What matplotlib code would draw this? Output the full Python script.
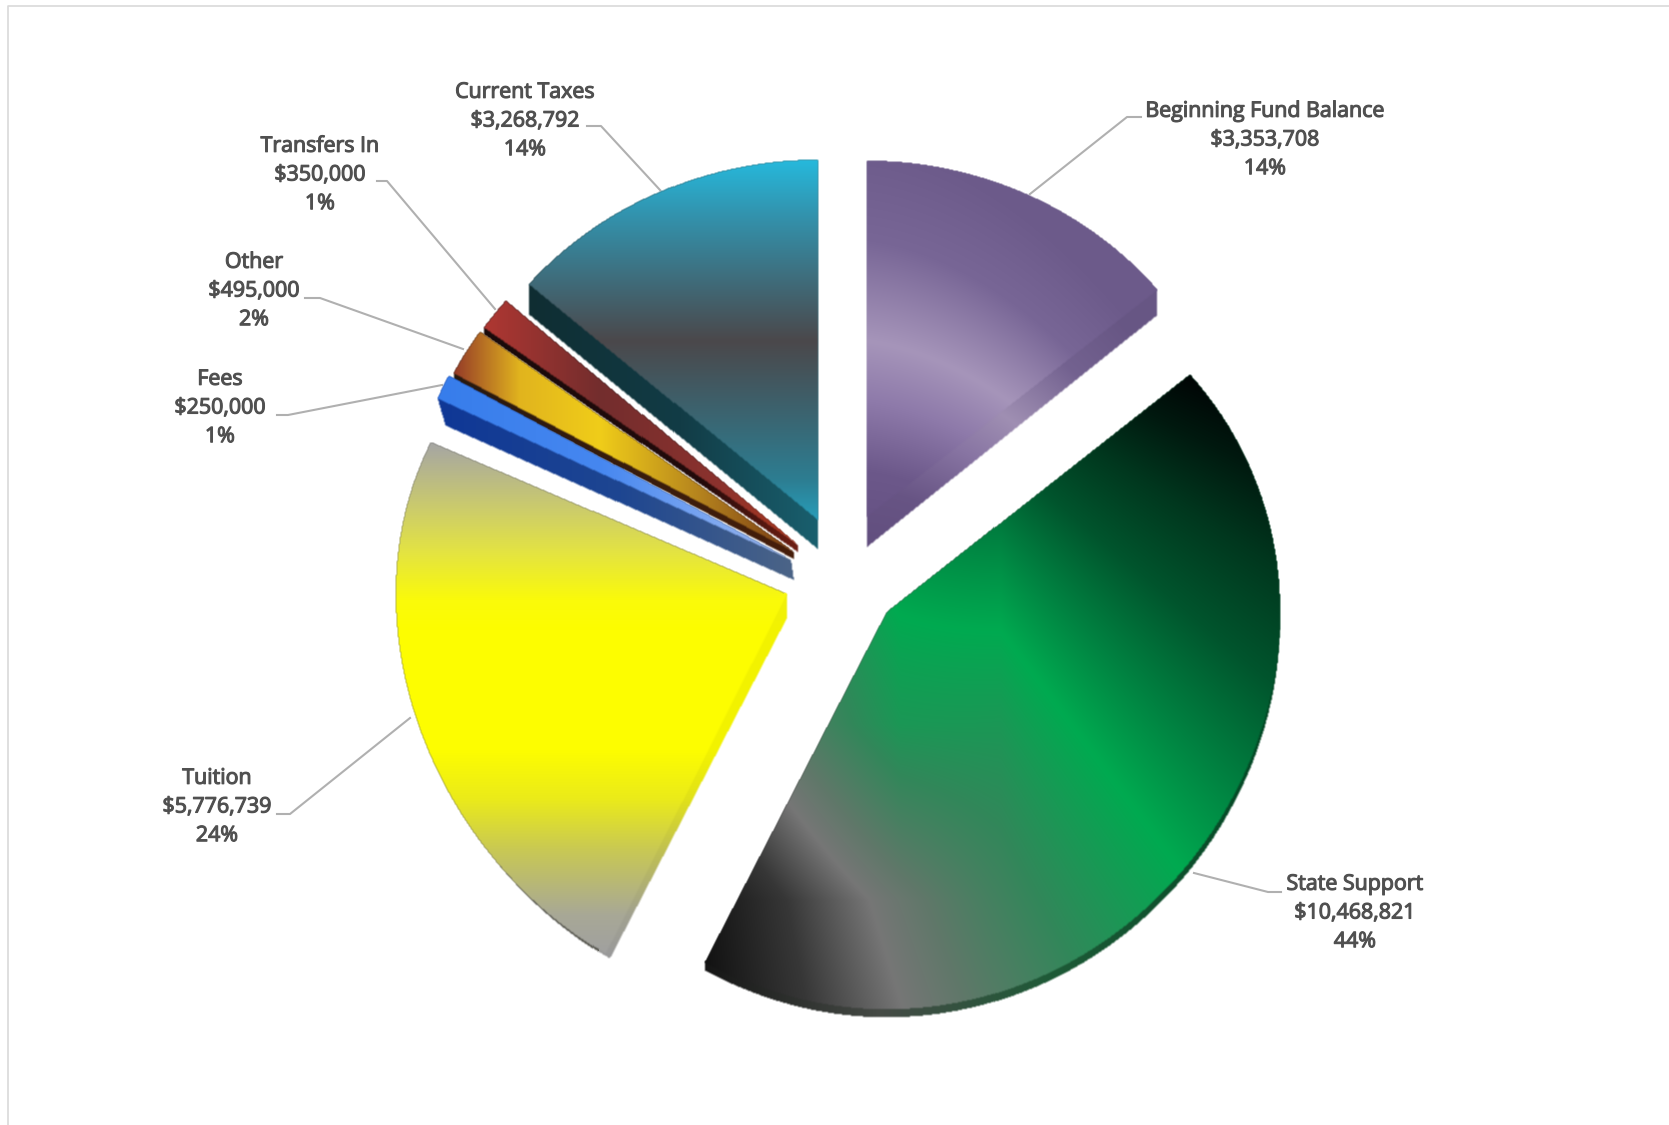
import numpy as np
import matplotlib
matplotlib.use('Agg')
import matplotlib.pyplot as plt
import matplotlib.patheffects as pe
from matplotlib.path import Path

W, H = 1669, 1125

# Revenue sources, clockwise from 12 o'clock
labels = ['Beginning Fund Balance', 'State Support', 'Tuition', 'Fees', 'Other', 'Transfers In', 'Current Taxes']
amounts = [3353708, 10468821, 5776739, 250000, 495000, 350000, 3268792]
amount_text = ['$3,353,708', '$10,468,821', '$5,776,739', '$250,000', '$495,000', '$350,000', '$3,268,792']
percent_text = ['14%', '44%', '24%', '1%', '2%', '1%', '14%']

# Slice geometry: apex, x and y radius, vertical perspective, drop of apex and rim for the extruded edge
apex = [(867, 517), (887, 612), (786, 594), (790, 560), (793, 552), (797, 545), (817, 520)]
radius_x = [377, 392, 390, 387, 385, 385, 381]
radius_y = [356, 382, 379, 390, 378, 373, 360]
persp = [0, 0.04, 0.08, 0, 0, 0, 0]
tip_drop = [(0, 30), (0, 4), (0, 24), (3, 20), (0, 7), (0, 7), (0, 29)]
rim_drop = [(0, 25), (0, 8), (4, 5), (8, 27), (0, 7), (0, 7), (0, 30)]

# Label centres and leader lines
label_xy = [(1265, 140), (1355, 913), (217, 807), (220, 408), (254, 291), (320, 175), (525, 121)]
leader_lines = [
    [(1141, 117), (1127, 117), (1030, 194)],
    [(1281, 892), (1268, 892), (1194, 873)],
    [(277, 814), (290, 814), (410, 718)],
    [(277, 415), (288, 415), (442, 385)],
    [(305, 298), (320, 298), (463, 349)],
    [(377, 181), (387, 181), (495, 309)],
    [(587, 126), (601, 126), (660, 190)],
]


def ramp(t, stops):
    pos = [s[0] for s in stops]
    return np.stack([np.interp(t, pos, [s[1][i] for s in stops]) for i in (0, 1, 2)], axis=-1) / 255


def purple(x, y):
    ridge = 341 + 0.14 * (x - 867) + 0.002 * (x - 867) ** 2
    return ramp(y - ridge, [(-200, (108, 90, 138)), (-100, (120, 102, 150)), (0, (166, 149, 186)),
                            (60, (142, 122, 170)), (130, (108, 88, 138)), (220, (98, 78, 128))])


def green(x, y):
    # bands fan out from a point above the chart, bending near the inner edge
    ang = np.degrees(np.arctan2(x - 642, y - 156))
    ang = ang + 7 * np.clip((900 - y) / 160, 0, 1.1) * np.clip((1000 - x) / 100, 0, 1)
    return ramp(ang, [(4, (15, 15, 15)), (11, (55, 55, 55)), (17, (118, 118, 118)), (21, (95, 120, 105)),
                      (28, (50, 135, 90)), (37, (0, 170, 80)), (43, (0, 130, 65)), (50, (0, 85, 45)),
                      (57, (0, 55, 30)), (63, (0, 25, 15)), (68, (0, 5, 5))])


def yellow(x, y):
    return ramp(y, [(442, (165, 165, 165)), (511, (205, 205, 105)), (553, (228, 228, 65)), (600, (250, 250, 10)),
                    (630, (253, 253, 0)), (750, (253, 253, 0)), (798, (235, 235, 25)), (851, (200, 200, 85)),
                    (915, (168, 168, 150)), (955, (160, 160, 160))])


def cyan(x, y):
    return ramp(y, [(160, (38, 185, 220)), (213, (50, 148, 175)), (341, (75, 72, 75)),
                    (479, (45, 125, 145)), (548, (35, 180, 215))])


def blue(x, y):
    return ramp(x, [(440, (55, 125, 235)), (600, (70, 135, 240)), (720, (130, 170, 240)), (790, (150, 175, 230))])


def gold(x, y):
    return ramp(x, [(455, (150, 60, 40)), (520, (225, 180, 30)), (600, (240, 205, 25)), (700, (180, 130, 30)),
                    (790, (120, 60, 20))])


def red(x, y):
    return ramp(x, [(485, (175, 55, 50)), (600, (115, 45, 45)), (720, (140, 50, 45)), (795, (170, 55, 30))])


# Extruded edges
def purple_side(x, y):
    return purple(x, y - 18) * 0.96


def green_side(x, y):
    return ramp(x, [(700, (20, 20, 20)), (880, (70, 75, 70)), (1050, (30, 90, 55)), (1290, (0, 70, 35))])


def yellow_side(x, y):
    edge = yellow(x, y) * 0.96
    rim = (x - 786) < -(y - 594) * 0.52 - 3
    edge[rim] = (0.33, 0.33, 0.30)
    return edge


def blue_side(x, y):
    return ramp(x, [(440, (15, 55, 150)), (620, (30, 70, 145)), (790, (75, 100, 135))])


def gold_side(x, y):
    return ramp(x, [(455, (40, 25, 15)), (790, (70, 30, 10))])


def red_side(x, y):
    return ramp(x, [(485, (25, 10, 10)), (700, (35, 10, 10)), (795, (110, 30, 20))])


def cyan_side(x, y):
    return ramp(x, [(530, (15, 45, 50)), (680, (18, 60, 70)), (817, (25, 95, 110))])


face_fill = [purple, green, yellow, blue, gold, red, cyan]
side_fill = [purple_side, green_side, yellow_side, blue_side, gold_side, red_side, cyan_side]
draw_order = [0, 1, 2, 6, 5, 4, 3]


def outline(i, a0, a1, shift_tip=(0, 0), shift_rim=(0, 0)):
    a = np.radians(np.linspace(a0, a1, 80))
    rim = np.column_stack([apex[i][0] + radius_x[i] * np.sin(a) + shift_rim[0],
                           apex[i][1] - radius_y[i] * np.cos(a) * (1 - persp[i] * np.cos(a)) + shift_rim[1]])
    tip = np.array([[apex[i][0] + shift_tip[0], apex[i][1] + shift_tip[1]]])
    return np.vstack([tip, rim])


def hull(points):
    pts = sorted(map(tuple, points))

    def half(seq):
        out = []
        for p in seq:
            while len(out) > 1:
                ux, uy = out[-1][0] - out[-2][0], out[-1][1] - out[-2][1]
                vx, vy = p[0] - out[-1][0], p[1] - out[-1][1]
                if ux * vy - uy * vx > 0:
                    break
                out.pop()
            out.append(p)
        return out[:-1]
    return np.array(half(pts) + half(pts[::-1]))


def paint(ax, poly, fill):
    # soft-edged gradient image masked to the polygon
    x0, y0 = np.floor(poly.min(axis=0)).astype(int) - 3
    x1, y1 = np.ceil(poly.max(axis=0)).astype(int) + 3
    xs, ys = np.meshgrid(np.arange(x0, x1) + 0.5, np.arange(y0, y1) + 0.5)
    inside = Path(poly).contains_points(np.column_stack([xs.ravel(), ys.ravel()])).reshape(xs.shape).astype(float)
    kernel = np.array([1, 2, 1]) / 4
    inside = np.apply_along_axis(lambda r: np.convolve(r, kernel, mode='same'), 0, inside)
    inside = np.apply_along_axis(lambda r: np.convolve(r, kernel, mode='same'), 1, inside)
    rgba = np.dstack([fill(xs, ys), inside])
    ax.imshow(rgba, extent=(x0, x1, y1, y0), interpolation='nearest', aspect='auto', zorder=2)


fig = plt.figure(figsize=(W / 100, H / 100), dpi=100, facecolor='white')
ax = fig.add_axes([0, 0, 1, 1])

# slice angles clockwise from the top
edges = np.concatenate([[0], np.cumsum(amounts)]) / np.sum(amounts) * 360

for i in draw_order:
    top = outline(i, edges[i], edges[i + 1])
    bottom = outline(i, edges[i], edges[i + 1], tip_drop[i], rim_drop[i])
    paint(ax, hull(np.vstack([top, bottom])), side_fill[i])
    paint(ax, top, face_fill[i])

# leader lines and labels
for line in leader_lines:
    xs, ys = zip(*line)
    ax.plot(xs, ys, color='#b0b0b0', lw=1.5, zorder=1)

for i, (x, y) in enumerate(label_xy):
    ax.text(x, y, labels[i] + '\n' + amount_text[i] + '\n' + percent_text[i], ha='center', va='center',
            fontsize=15.4, family='Open Sans', color='#505050', linespacing=1.48, zorder=3,
            path_effects=[pe.withStroke(linewidth=0.8, foreground='#505050')])

# thin frame along the top and left
ax.plot([8, 8, W], [H, 6, 6], color='#d9d9d9', lw=1.2, zorder=1)

ax.set_xlim(0, W)
ax.set_ylim(H, 0)
ax.axis('off')

fig.savefig('out.png', dpi=100, facecolor='white')
